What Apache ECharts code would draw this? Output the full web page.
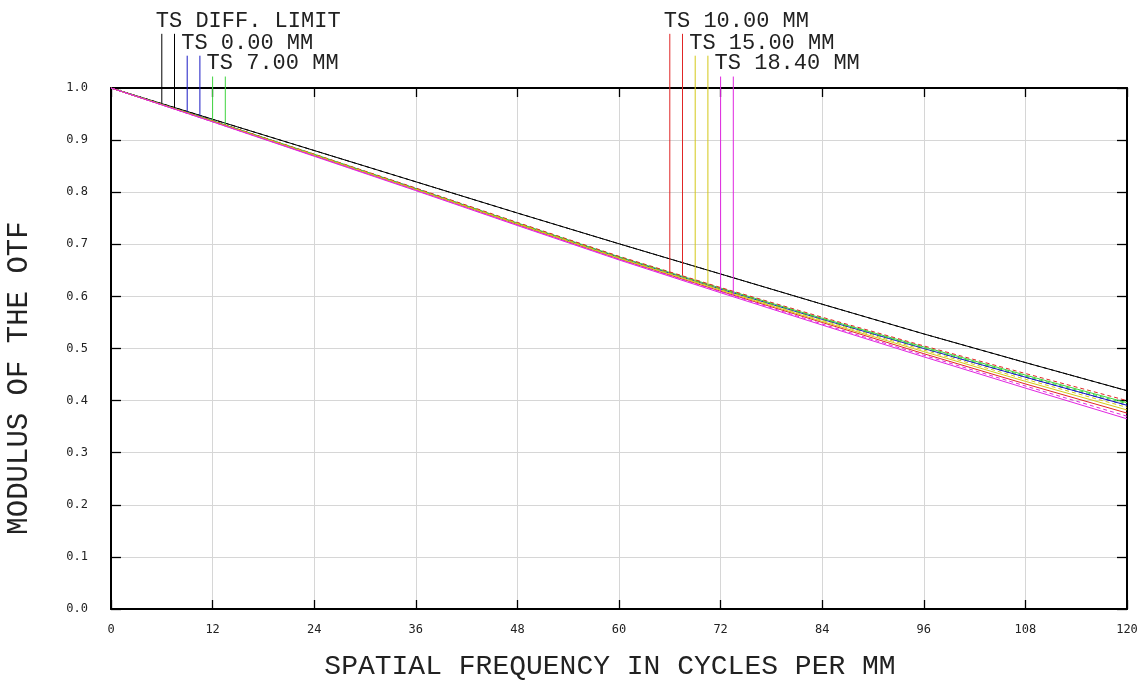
<!DOCTYPE html>
<html>
<head>
<meta charset="utf-8">
<script src="https://cdn.jsdelivr.net/npm/echarts@6/dist/echarts.min.js"></script>
<style>
html,body{margin:0;padding:0;background:#fff;}
#c{width:1147px;height:686px;}
</style>
</head>
<body>
<div id="c"></div>
<script>
// ---- data ----
const xValues = [0, 12, 24, 36, 48, 60, 72, 84, 96, 108, 120];
const diffT = [1.000, 0.940, 0.880, 0.820, 0.760, 0.701, 0.643, 0.585, 0.528, 0.473, 0.419];
const diffS = [1.000, 0.940, 0.880, 0.820, 0.760, 0.701, 0.643, 0.585, 0.528, 0.473, 0.419];
const f0T   = [1.000, 0.937, 0.872, 0.807, 0.740, 0.675, 0.614, 0.556, 0.500, 0.445, 0.391];
const f0S   = [1.000, 0.937, 0.872, 0.807, 0.740, 0.675, 0.614, 0.556, 0.500, 0.445, 0.391];
const f7T   = [1.000, 0.937, 0.873, 0.807, 0.741, 0.676, 0.616, 0.558, 0.503, 0.449, 0.396];
const f7S   = [1.000, 0.937, 0.872, 0.807, 0.741, 0.676, 0.615, 0.557, 0.501, 0.447, 0.394];
const f10T  = [1.000, 0.936, 0.870, 0.805, 0.738, 0.672, 0.610, 0.550, 0.490, 0.432, 0.376];
const f10S  = [1.000, 0.937, 0.873, 0.808, 0.742, 0.677, 0.617, 0.560, 0.505, 0.452, 0.400];
const f15T  = [1.000, 0.936, 0.871, 0.805, 0.739, 0.673, 0.612, 0.552, 0.494, 0.437, 0.382];
const f15S  = [1.000, 0.936, 0.872, 0.806, 0.740, 0.674, 0.613, 0.554, 0.497, 0.441, 0.387];
const f184T = [1.000, 0.935, 0.869, 0.803, 0.736, 0.670, 0.607, 0.545, 0.484, 0.424, 0.365];
const f184S = [1.000, 0.935, 0.870, 0.804, 0.737, 0.671, 0.609, 0.547, 0.487, 0.428, 0.370];
const fieldLabels = ['TS DIFF. LIMIT', 'TS 0.00 MM', 'TS 7.00 MM', 'TS 10.00 MM', 'TS 15.00 MM', 'TS 18.40 MM'];
const xTitle = 'SPATIAL FREQUENCY IN CYCLES PER MM';
const yTitle = 'MODULUS OF THE OTF';

// ---- styling / layout ----
const fieldColors = ['#000000', '#1a1ac4', '#3fd43f', '#e02626', '#d4c818', '#e026e0'];
const fieldSeries = [[diffT, diffS], [f0T, f0S], [f7T, f7S], [f10T, f10S], [f15T, f15S], [f184T, f184S]];
const leaderX = [[6, 7.5], [9, 10.5], [12, 13.5], [66, 67.5], [69, 70.5], [72, 73.5]];
const leaderRow = [0, 1, 2, 0, 1, 2];
const leaderTop = [1.104, 1.062, 1.022];
const FONT = '"Liberation Mono", "DejaVu Sans Mono", monospace';

function pairs(arr) { return xValues.map((x, i) => [x, arr[i]]); }
function interp(arr, x) {
  for (let i = 0; i < xValues.length - 1; i++) {
    if (x >= xValues[i] && x <= xValues[i + 1]) {
      const t = (x - xValues[i]) / (xValues[i + 1] - xValues[i]);
      return arr[i] + t * (arr[i + 1] - arr[i]);
    }
  }
  return arr[arr.length - 1];
}

const series = [];
fieldSeries.forEach((pair, k) => {
  const color = fieldColors[k];
  series.push({ type: 'line', data: pairs(pair[0]), showSymbol: false, silent: true,
    lineStyle: { color: color, width: 1 }, z: 3 + k });
  series.push({ type: 'line', data: pairs(pair[1]), showSymbol: false, silent: true,
    lineStyle: { color: color, width: 1, type: [4, 3] }, z: 3 + k });
  pair.forEach((arr, j) => {
    const lx = leaderX[k][j];
    series.push({ type: 'line', clip: false, showSymbol: false, silent: true,
      data: [[lx, leaderTop[leaderRow[k]]], [lx, interp(arr, lx)]],
      lineStyle: { color: color, width: 1 }, z: 3 + k });
  });
});

const axisLineStyle = { color: '#000', width: 2 };
const tickStyle = { color: '#000', width: 1.3 };
const option = {
  animation: false,
  backgroundColor: '#ffffff',
  grid: { left: 111, right: 20, top: 88, bottom: 62, containLabel: false },
  xAxis: [
    { type: 'value', min: 0, max: 120, interval: 12, position: 'bottom',
      axisLine: { show: true, onZero: false, lineStyle: axisLineStyle },
      axisTick: { show: true, inside: true, length: 9, lineStyle: tickStyle },
      axisLabel: { show: true, margin: 15, color: '#222', fontFamily: '"DejaVu Sans Mono", monospace', fontSize: 12 },
      splitLine: { show: true, lineStyle: { color: '#d6d6d6', width: 1 } },
      name: xTitle, nameLocation: 'middle', nameGap: 44,
      nameTextStyle: { fontFamily: FONT, fontSize: 28, color: '#222', padding: [0, 18, 0, 0] } },
    { type: 'value', min: 0, max: 120, interval: 12, position: 'top',
      axisLine: { show: true, onZero: false, lineStyle: axisLineStyle },
      axisTick: { show: true, inside: true, length: 9, lineStyle: tickStyle },
      axisLabel: { show: false }, splitLine: { show: false } }
  ],
  yAxis: [
    { type: 'value', min: 0, max: 1, interval: 0.1, position: 'left',
      axisLine: { show: true, onZero: false, lineStyle: axisLineStyle },
      axisTick: { show: true, inside: true, length: 10, lineStyle: tickStyle },
      axisLabel: { show: true, margin: 23, color: '#222', fontFamily: '"DejaVu Sans Mono", monospace', fontSize: 12,
        formatter: v => v.toFixed(1) },
      splitLine: { show: true, lineStyle: { color: '#d6d6d6', width: 1 } } },
    { type: 'value', min: 0, max: 1, interval: 0.1, position: 'right',
      axisLine: { show: true, onZero: false, lineStyle: axisLineStyle },
      axisTick: { show: true, inside: true, length: 10, lineStyle: tickStyle },
      axisLabel: { show: false }, splitLine: { show: false } }
  ],
  series: series
};

const chart = echarts.init(document.getElementById('c'));
chart.setOption(option);

// legend labels positioned from the leader tops via the chart's own scales
const graphics = [];
fieldLabels.forEach((label, k) => {
  const p = chart.convertToPixel({ xAxisIndex: 0, yAxisIndex: 0 }, [leaderX[k][0], leaderTop[leaderRow[k]]]);
  graphics.push({ type: 'text', x: p[0] - 6, y: p[1] - 13, silent: true,
    style: { text: label, fill: '#222', font: '22px ' + FONT, textAlign: 'left', textVerticalAlign: 'middle' } });
});
graphics.push({ type: 'text', x: 19, y: 378, rotation: Math.PI / 2, silent: true,
  style: { text: yTitle, fill: '#222', font: '29px ' + FONT, textAlign: 'center', textVerticalAlign: 'middle' } });
chart.setOption({ graphic: graphics });
</script>
</body>
</html>
